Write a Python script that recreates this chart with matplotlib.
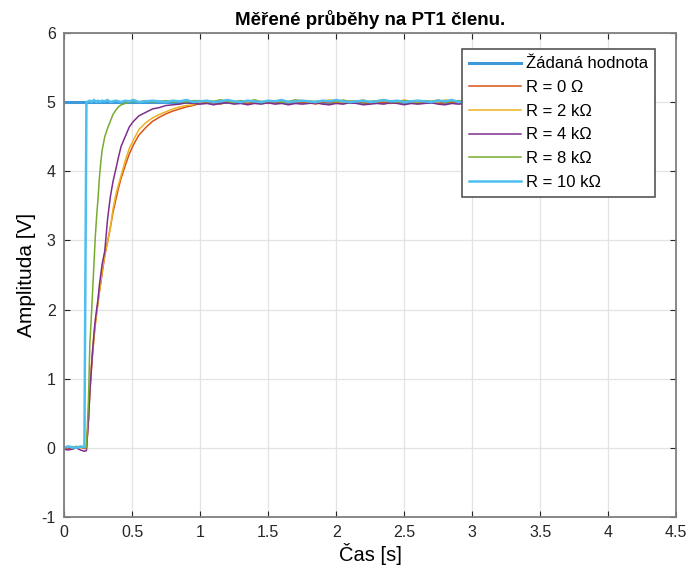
import matplotlib
matplotlib.use("Agg")
import matplotlib.pyplot as plt
import numpy as np

plt.rcParams["font.family"] = ["Liberation Sans", "DejaVu Sans"]
plt.rcParams["axes.unicode_minus"] = False

# time base [s]: step region + steady state
t_rise = [0.00, 0.03, 0.06, 0.09, 0.12, 0.15, 0.165,
          0.18, 0.19, 0.20, 0.21, 0.22, 0.23, 0.24, 0.25, 0.26, 0.27, 0.28,
          0.30, 0.32, 0.34, 0.36, 0.38, 0.40, 0.42,
          0.45, 0.48, 0.51,
          0.55, 0.60, 0.65, 0.70, 0.75, 0.80, 0.85, 0.90, 0.95]
t_steady = [1.00, 1.05, 1.10, 1.15, 1.20, 1.25, 1.30, 1.35, 1.40, 1.45,
            1.50, 1.55, 1.60, 1.65, 1.70, 1.75, 1.80, 1.85, 1.90, 1.95,
            2.00, 2.05, 2.10, 2.15, 2.20, 2.25, 2.30, 2.35, 2.40, 2.45,
            2.50, 2.55, 2.60, 2.65, 2.70, 2.75, 2.80, 2.85, 2.90, 2.95,
            3.00]

setpoint_t = [0.0, 3.0]
setpoint_v = [5.0, 5.0]

r0_rise = [0.00, -0.01, 0.01, 0.00, 0.01, -0.01, 0.00,
           0.40, 0.80, 1.10, 1.35, 1.58, 1.78, 1.95, 2.10, 2.25, 2.38, 2.52,
           2.78, 2.98, 3.18, 3.40, 3.58, 3.75, 3.90,
           4.08, 4.25, 4.38,
           4.52, 4.63, 4.72, 4.78, 4.83, 4.87, 4.90, 4.93, 4.95]
r0_steady = [4.98, 5.00, 4.99, 4.97, 5.00, 4.99, 5.01, 4.98, 4.99, 5.00,
             4.98, 4.99, 5.01, 4.99, 4.98, 5.00, 4.99, 4.97, 5.00, 4.99,
             5.00, 4.98, 4.99, 5.01, 4.99, 4.98, 5.00, 4.99, 4.98, 5.00,
             4.99, 5.01, 4.98, 4.99, 5.00, 4.98, 4.99, 5.00, 4.99, 4.98,
             5.00]

r2_rise = [0.01, 0.02, 0.01, 0.02, 0.00, 0.01, 0.00,
           0.45, 0.85, 1.15, 1.40, 1.60, 1.80, 1.95, 2.10, 2.25, 2.40, 2.55,
           2.80, 2.97, 3.17, 3.45, 3.65, 3.80, 3.94,
           4.15, 4.33, 4.45,
           4.60, 4.70, 4.77, 4.82, 4.86, 4.90, 4.93, 4.95, 4.96]
r2_steady = [5.00, 5.02, 5.01, 5.03, 5.00, 5.01, 5.02, 5.00, 5.03, 5.01,
             5.00, 5.02, 5.01, 5.00, 5.03, 5.01, 5.02, 5.00, 5.01, 5.03,
             5.01, 5.00, 5.02, 5.01, 5.03, 5.00, 5.01, 5.02, 5.00, 5.01,
             5.03, 5.01, 5.00, 5.02, 5.01, 5.00, 5.03, 5.01, 5.02, 5.00,
             5.01]

r4_rise = [-0.02, -0.03, -0.02, 0.00, -0.03, -0.05, -0.04,
           0.40, 0.80, 1.10, 1.40, 1.65, 1.85, 2.00, 2.15, 2.35, 2.50, 2.65,
           2.85, 3.30, 3.62, 3.85, 4.02, 4.20, 4.36,
           4.50, 4.64, 4.72,
           4.80, 4.85, 4.90, 4.92, 4.95, 4.96, 4.97, 4.99, 4.98]
r4_steady = [4.97, 4.98, 4.96, 4.98, 4.99, 4.97, 4.98, 4.96, 4.98, 4.97,
             4.99, 4.97, 4.98, 4.96, 4.98, 4.97, 4.98, 4.99, 4.97, 4.96,
             4.98, 4.97, 4.99, 4.98, 4.96, 4.97, 4.98, 4.97, 4.99, 4.98,
             4.96, 4.98, 4.97, 4.98, 4.99, 4.97, 4.96, 4.98, 4.97, 4.98,
             4.97]

r8_rise = [0.01, 0.02, 0.00, 0.02, 0.01, 0.02, 0.00,
           0.70, 1.50, 1.85, 2.25, 2.65, 3.05, 3.35, 3.60, 3.90, 4.12, 4.30,
           4.50, 4.62, 4.72, 4.82, 4.88, 4.93, 4.96,
           4.98, 5.00, 5.01,
           5.00, 5.02, 5.00, 5.01, 5.02, 5.00, 5.01, 5.00, 5.02]
r8_steady = [5.02, 5.00, 5.01, 5.03, 5.01, 5.00, 5.02, 5.01, 5.03, 5.00,
             5.01, 5.02, 5.00, 5.01, 5.03, 5.02, 5.00, 5.01, 5.02, 5.01,
             5.00, 5.03, 5.01, 5.02, 5.00, 5.01, 5.02, 5.03, 5.01, 5.00,
             5.02, 5.01, 5.00, 5.02, 5.01, 5.03, 5.00, 5.01, 5.02, 5.01,
             5.00]

r10_rise = [0.00, 0.02, 0.01, 0.00, 0.02, 0.01, 5.00,
            5.01, 5.02, 5.00, 5.01, 5.03, 5.01, 5.00, 5.02, 5.01, 5.00, 5.02,
            5.01, 5.03, 5.00, 5.01, 5.02, 5.01, 5.00,
            5.02, 5.01, 5.03,
            5.00, 5.01, 5.02, 5.01, 5.00, 5.02, 5.01, 5.03, 5.00]
r10_steady = [5.01, 5.02, 5.00, 5.01, 5.03, 5.01, 5.00, 5.02, 5.01, 5.00,
              5.02, 5.01, 5.03, 5.00, 5.01, 5.02, 5.01, 5.00, 5.02, 5.01,
              5.03, 5.01, 5.00, 5.01, 5.02, 5.00, 5.01, 5.03, 5.01, 5.02,
              5.00, 5.01, 5.02, 5.01, 5.00, 5.02, 5.01, 5.03, 5.00, 5.01,
              5.02]

labels = ["Žádaná hodnota", "R = 0 Ω", "R = 2 kΩ", "R = 4 kΩ", "R = 8 kΩ", "R = 10 kΩ"]
colors = ["#3f98d8", "#D95319", "#EDB120", "#7E2F8E", "#77AC30", "#4DBEEE"]


def main():
    t = t_rise + t_steady
    series = [r0_rise + r0_steady, r2_rise + r2_steady, r4_rise + r4_steady,
              r8_rise + r8_steady, r10_rise + r10_steady]

    fig = plt.figure(figsize=(6.88, 5.77), dpi=100)
    ax = fig.add_axes([0.093, 0.104, 0.890, 0.839])

    ax.plot(setpoint_t, setpoint_v, color=colors[0], lw=2.2, label=labels[0])
    for i, vals in enumerate(series):
        lw = 1.8 if i == 4 else 1.1
        ax.plot(t, vals, color=colors[i + 1], lw=lw, label=labels[i + 1])

    ax.set_xlim(0, 4.5)
    ax.set_ylim(-1, 6)
    ax.set_xticks(np.arange(0, 4.51, 0.5))
    ax.set_xticklabels(["0", "0.5", "1", "1.5", "2", "2.5", "3", "3.5", "4", "4.5"])
    ax.set_yticks(range(-1, 7))
    ax.grid(True, color="#e3e3e3", lw=0.9)
    ax.set_axisbelow(True)
    ax.tick_params(direction="in", length=4, top=True, right=True,
                   labelsize=11.5, colors="#262626", pad=6)
    for sp in ax.spines.values():
        sp.set_color("#7f7f7f")
        sp.set_linewidth(1.3)

    ax.set_title("Měřené průběhy na PT1 členu.", fontsize=13.5, fontweight="bold", pad=6)
    ax.set_xlabel("Čas [s]", fontsize=14.5, labelpad=2)
    ax.set_ylabel("Amplituda [V]", fontsize=15, labelpad=4)

    leg = ax.legend(loc="upper right", bbox_to_anchor=(0.966, 0.966), fontsize=12,
                    handlelength=3.1, fancybox=False, framealpha=1, borderpad=0.42,
                    labelspacing=0.52, handletextpad=0.35, borderaxespad=0)
    leg.get_frame().set_edgecolor("#555555")
    leg.get_frame().set_linewidth(1.2)

    fig.savefig("out.png", dpi=100)


if __name__ == "__main__":
    main()
